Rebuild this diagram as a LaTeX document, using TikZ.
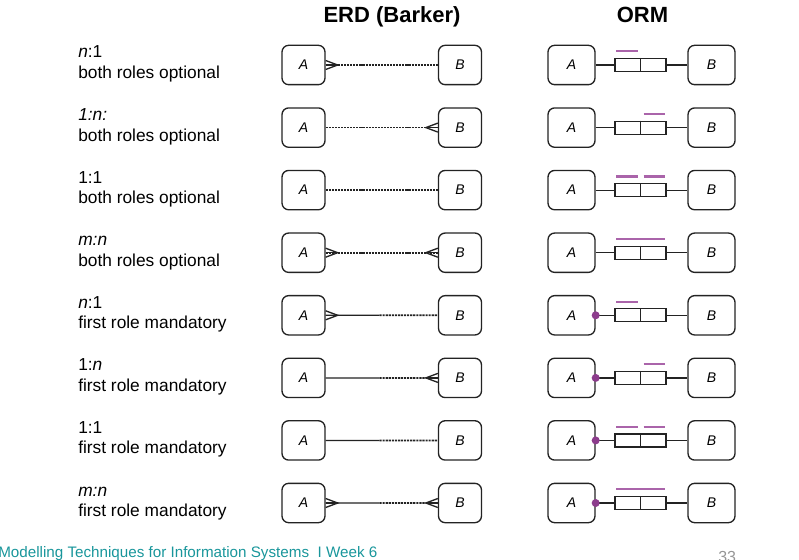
\documentclass[tikz,border=0pt]{standalone}
\usepackage{fontspec}
\setmainfont{Liberation Sans}
\usetikzlibrary{calc}
\definecolor{ink}{RGB}{35,35,35}
\definecolor{ormpurple}{RGB}{140,60,140}
\definecolor{barpurple}{RGB}{170,100,170}
\definecolor{footteal}{RGB}{25,150,155}
\definecolor{pagegray}{RGB}{150,150,150}

\tikzset{
  lbl/.style={font=\fontsize{13}{15}\selectfont, text=black, inner sep=0pt},
  ttl/.style={font=\fontsize{16.5}{18}\selectfont\bfseries, text=black, inner sep=0pt},
  erdent/.style={draw=ink, line width=1pt, rounded corners=5pt, minimum width=32.25pt, minimum height=29.5pt, inner sep=0pt, font=\fontsize{10.5}{12}\selectfont\itshape},
  orment/.style={draw=ink, line width=1pt, rounded corners=5pt, minimum width=35.25pt, minimum height=29.5pt, inner sep=0pt, font=\fontsize{10.5}{12}\selectfont\itshape},
  rolebox/.style={draw=ink, line width=0.9pt, minimum width=38.25pt, minimum height=9.75pt, inner sep=0pt},
  dashrel/.style={draw=ink, line width=1.3pt, dash pattern=on 1.6pt off 0.7pt},
  solidrel/.style={draw=ink, line width=0.9pt},
  crowline/.style={draw=ink, line width=1pt},
  ormline/.style={draw=ink, line width=0.9pt},
  ubar/.style={draw=barpurple, line width=1.6pt},
}

% #1 index, #2 y, #3 line1, #4 line2, #5 crow at A, #6 crow at B, #7 mandatory, #8 bar type (1 left, 2 right, 3 both, 4 span)
\newcommand\relrow[8]{%
  \node[lbl, anchor=base west] (la#1) at (78,#2-7) {#3};
  \node[lbl, anchor=base west] (lb#1) at (78,#2+13.5) {#4};
  \node[erdent] (ea#1) at (303.5,#2) {A};
  \node[erdent] (eb#1) at (460,#2) {B};
  \coordinate (em#1) at ($(ea#1.east)!0.48!(eb#1.west)$);
  \ifnum#7=1
    \draw[solidrel] (ea#1.east) -- (em#1);
    \draw[dashrel] (em#1) -- (eb#1.west);
  \else
    \draw[dashrel] (ea#1.east) -- (eb#1.west);
  \fi
  \ifnum#5=1
    \coordinate (ca#1) at ($(ea#1.east)+(12,0)$);
    \draw[crowline] ($(ea#1.east)+(0,-4.5)$) -- (ca#1) -- ($(ea#1.east)+(0,4.5)$);
    \draw[crowline] (ea#1.east) -- (ca#1);
  \fi
  \ifnum#6=1
    \coordinate (cb#1) at ($(eb#1.west)+(-12,0)$);
    \draw[crowline] ($(eb#1.west)+(0,-4.5)$) -- (cb#1) -- ($(eb#1.west)+(0,4.5)$);
    \draw[crowline] (eb#1.west) -- (cb#1);
  \fi
  \node[orment] (oa#1) at (571.5,#2) {A};
  \node[orment] (ob#1) at (711.5,#2) {B};
  \node[rolebox] (r#1) at (640.5,#2) {};
  \draw[ormline] (oa#1.east) -- (r#1.west);
  \draw[ormline] (r#1.east) -- (ob#1.west);
  \draw[ormline] (r#1.north) -- (r#1.south);
  \ifcase#8\or
    \draw[ubar] ($(r#1.north west)+(2,-6.5)$) -- ($(r#1.north)+(-3,-6.5)$);
  \or
    \draw[ubar] ($(r#1.north)+(3,-6.5)$) -- ($(r#1.north east)+(-2,-6.5)$);
  \or
    \draw[ubar] ($(r#1.north west)+(2,-6.5)$) -- ($(r#1.north)+(-3,-6.5)$);
    \draw[ubar] ($(r#1.north)+(3,-6.5)$) -- ($(r#1.north east)+(-2,-6.5)$);
  \or
    \draw[ubar] ($(r#1.north west)+(2,-6.5)$) -- ($(r#1.north east)+(-2,-6.5)$);
  \fi
  \ifnum#7=1
    \fill[ormpurple] (oa#1.east) circle (3pt);
  \fi
}

\begin{document}
\begin{tikzpicture}[x=0.75pt, y=-0.75pt]
\useasboundingbox (0,0) rectangle (799,560);
\node[ttl, anchor=base] (terd) at (392,23) {ERD (Barker)};
\node[ttl, anchor=base] (torm) at (642.5,23) {ORM};

\relrow{1}{65}{\textit{n}:1}{both roles optional}{1}{0}{0}{1}
\relrow{2}{127.6}{\textit{1:n:}}{both roles optional}{0}{1}{0}{2}
\relrow{3}{190.1}{1:1}{both roles optional}{0}{0}{0}{3}
\relrow{4}{252.7}{\textit{m:n}}{both roles optional}{1}{1}{0}{4}
\relrow{5}{315.3}{\textit{n}:1}{first role mandatory}{1}{0}{1}{1}
\relrow{6}{377.9}{1:\textit{n}}{first role mandatory}{0}{1}{1}{2}
\relrow{7}{440.4}{1:1}{first role mandatory}{0}{0}{1}{3}
\relrow{8}{503}{\textit{m:n}}{first role mandatory}{1}{1}{1}{4}

\node[anchor=base west, inner sep=0pt, text=footteal, font=\fontsize{11.4}{13}\selectfont] (foot) at (-2,557) {Modelling Techniques for Information Systems \ I Week 6};
\node[anchor=base west, inner sep=0pt, text=pagegray, font=\fontsize{12}{13}\selectfont] (page) at (718,562) {33};
\end{tikzpicture}
\end{document}
